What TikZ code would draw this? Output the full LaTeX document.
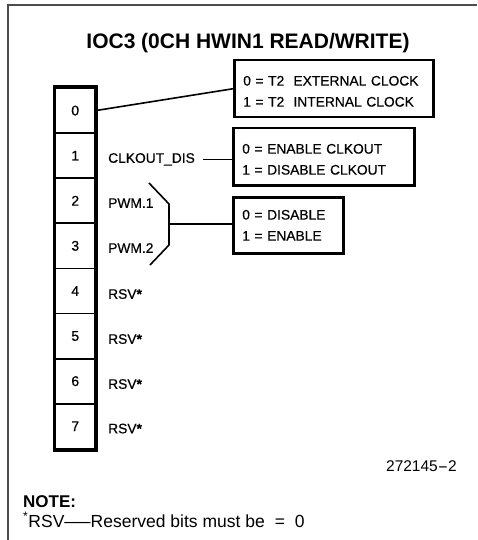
\documentclass[tikz,border=0pt]{standalone}
\usepackage{fontspec}
\usepackage{graphicx}
\setmainfont{Liberation Sans}
\newfontfamily\plotfont[FakeBold=0.5]{Liberation Sans}
\usetikzlibrary{calc}
\begin{document}
\begin{tikzpicture}[x=1pt,y=-1pt,
  frame/.style={draw=black!70, line width=2pt},
  cell/.style={draw, line width=1.8pt, minimum width=39.5pt, minimum height=45.1pt, inner sep=0pt, font=\plotfont\fontsize{14}{15}\selectfont},
  reg/.style={line width=3.6pt},
  infobox/.style={draw, line width=2.5pt, anchor=north west, align=left, inner xsep=9pt, inner ysep=0pt, font=\plotfont\fontsize{13.8}{21}\selectfont},
  lbl/.style={anchor=base west, inner sep=0pt, font=\plotfont\fontsize{13.8}{16}\selectfont},
  txt/.style={inner sep=0pt},
  conn/.style={line width=1.6pt}]
\useasboundingbox (0,0) rectangle (477,540);
\draw[frame] (8,540) -- (8,5) -- (477,5);
% title
\node[txt, anchor=base, font=\bfseries\fontsize{21}{24}\selectfont] (title) at (248,48.5) {IOC3 (0CH HWIN1 READ/WRITE)};
% register cells
\foreach \i in {0,...,7}
  \node[cell] (c\i) at (75.25,{88+45.1*(\i+0.5)}) {\raisebox{-2.5pt}{\i}};
\draw[reg] (c0.north west) rectangle (c7.south east);
% info boxes
\node[infobox, text width=181pt, minimum height=57pt] (b1) at (233,59) {\rule{0pt}{14.8pt}0 = T2\ \ EXTERNAL CLOCK\\1 = T2\ \ INTERNAL CLOCK};
\node[infobox, text width=163pt, minimum height=57pt] (b2) at (232,127) {\rule{0pt}{14.8pt}0 = ENABLE CLKOUT\\1 = DISABLE CLKOUT};
\node[infobox, text width=92pt, minimum height=56pt] (b3) at (232,196) {0 = DISABLE\\1 = ENABLE};
% labels
\node[lbl] (l1) at (108,162.8) {CLKOUT\_DIS};
\node[lbl] (l2) at (108,207.8) {PWM.1};
\node[lbl] (l3) at (108,252.8) {PWM.2};
\node[lbl] (l4) at (108,298.8) {RSV{\bfseries *}};
\node[lbl] (l5) at (108,343.8) {RSV{\bfseries *}};
\node[lbl] (l6) at (108,388.8) {RSV{\bfseries *}};
\node[lbl] (l7) at (108,433.3) {RSV{\bfseries *}};
% connectors
\draw[conn] (c0.east) -- (b1.west);
\draw[conn] ($(l1.east)+(8,0)$) -- (l1.east -| b2.west);
\coordinate (p1) at (149,183);
\coordinate (p2) at (169,204);
\coordinate (p3) at (169,245);
\coordinate (p4) at (150,265);
\coordinate (pm) at (169,224);
\draw[conn] (p1) -- (p2) -- (p3) -- (p4);
\draw[conn] (pm) -- (pm -| b3.west);
% figure number and note
\node[txt, anchor=base east, font=\fontsize{15.5}{18}\selectfont] (fig) at (457,471) {272145\scalebox{2}[1]{-}2};
\node[txt, anchor=base west, font=\bfseries\fontsize{17}{20}\selectfont] (note) at (23,507) {NOTE:};
\node[txt, anchor=base west, font=\fontsize{17.5}{20}\selectfont] (notetxt) at (23,527) {\textsuperscript{*}RSV\scalebox{1.5}[1]{---}Reserved bits must be\hspace{10pt}=\hspace{10pt}0};
\end{tikzpicture}
\end{document}
